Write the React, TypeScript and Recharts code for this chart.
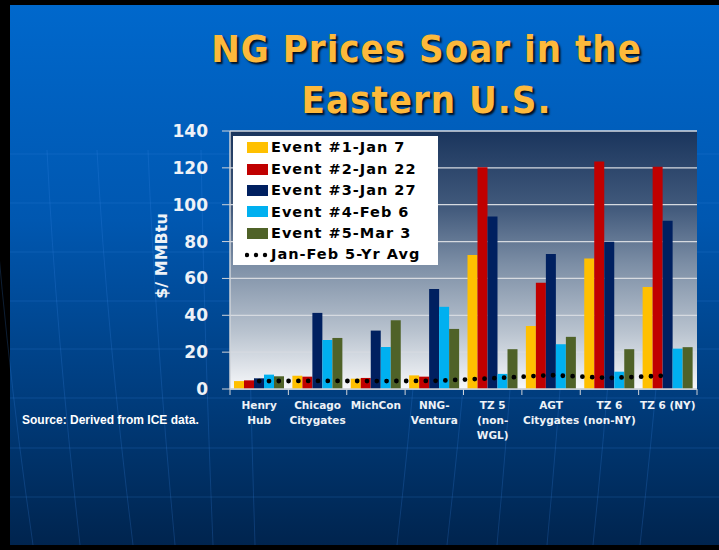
import React from 'react';
import { ComposedChart, Bar, Line, XAxis, YAxis, CartesianGrid, Legend, Label } from 'recharts';

// categories along the x axis, and how their labels wrap
const categories = ['Henry Hub', 'Chicago Citygates', 'MichCon', 'NNG-Ventura', 'TZ 5 (non-WGL)', 'AGT Citygates', 'TZ 6 (non-NY)', 'TZ 6 (NY)'];
const categoryLines = [['Henry', 'Hub'], ['Chicago', 'Citygates'], ['MichCon'], ['NNG-', 'Ventura'], ['TZ 5', '(non-', 'WGL)'], ['AGT', 'Citygates'], ['TZ 6', '(non-NY)'], ['TZ 6 (NY)']];

// $/MMBtu
const event1 = [4.3, 7.2, 5.6, 7.4, 72.7, 34.2, 70.8, 55.4];
const event2 = [4.7, 6.7, 6.0, 6.7, 120.3, 57.6, 123.5, 120.6];
const event3 = [5.8, 41.3, 31.7, 54.3, 93.6, 73.2, 79.9, 91.3];
const event4 = [7.8, 26.6, 22.8, 44.6, 8.2, 24.3, 9.4, 21.9];
const event5 = [6.9, 27.7, 37.3, 32.6, 21.6, 28.3, 21.6, 22.7];
const fiveYrAvg = [4.3, 4.4, 4.3, 4.4, 5.8, 7.5, 6.0, 7.3];

const seriesNames = ['Event #1-Jan 7', 'Event #2-Jan 22', 'Event #3-Jan 27', 'Event #4-Feb 6', 'Event #5-Mar 3'];
const seriesColors = ['#ffc000', '#c00000', '#002060', '#00b0f0', '#4f6228'];
const avgName = 'Jan-Feb 5-Yr Avg';
const yTicks = [0, 20, 40, 60, 80, 100, 120, 140];

const data = categories.map((name, i) => ({
  name,
  e1: event1[i],
  e2: event2[i],
  e3: event3[i],
  e4: event4[i],
  e5: event5[i],
  avg: fiveYrAvg[i],
}));

const W = 719;
const H = 550;
const margin = { top: 131, right: 22, bottom: 101, left: 170 };
const Y_AXIS_W = 60;
const X_AXIS_H = 60;
const BAND = (W - margin.left - margin.right - Y_AXIS_W) / categories.length;

const labelColor = '#eef2f7';
const axisColor = '#cfd3d8';

function CategoryTick(props: any) {
  const { x, y, index, payload } = props;
  const lines = categoryLines[index] || [payload.value];
  return (
    <g>
      <line x1={x - BAND / 2} x2={x - BAND / 2} y1={y} y2={y + 6} stroke={axisColor} />
      {index === categories.length - 1 && (
        <line x1={x + BAND / 2} x2={x + BAND / 2} y1={y} y2={y + 6} stroke={axisColor} />
      )}
      <text x={x} y={y + 19.5} textAnchor="middle" fill={labelColor} fontSize={10.5} fontWeight="bold" fontFamily="DejaVu Sans">
        {lines.map((l: string, i: number) => (
          <tspan key={i} x={x} dy={i === 0 ? 0 : 15}>{l}</tspan>
        ))}
      </text>
    </g>
  );
}

function LegendBox(props: any) {
  const payload = props.payload || [];
  return (
    <div style={{ background: '#fff', width: 205, height: 129, padding: '1px 0 0 14px', boxSizing: 'border-box' }}>
      {payload.map((entry: any) => (
        <div key={entry.value} style={{ display: 'flex', alignItems: 'center', height: 21.4 }}>
          {entry.type === 'line' ? (
            <svg width={26} height={10} style={{ marginLeft: -2 }}>
              {[2, 11, 20].map((cx) => <circle key={cx} cx={cx} cy={5} r={2.2} fill="#000" />)}
            </svg>
          ) : (
            <span style={{ display: 'inline-block', width: 21, height: 11, background: entry.color, marginRight: 3 }} />
          )}
          <span style={{ fontFamily: 'DejaVu Sans', fontWeight: 'bold', fontSize: 14.5, letterSpacing: 1, color: '#000', lineHeight: 1 }}>
            {entry.value}
          </span>
        </div>
      ))}
    </div>
  );
}

function YLabel(props: any) {
  const vb = props.viewBox;
  const cx = vb.x - 9;
  const cy = vb.y + vb.height / 2 - 4;
  return (
    <text x={cx} y={cy} transform={`rotate(-90 ${cx} ${cy})`} textAnchor="middle" dominantBaseline="central"
      fill={labelColor} fontSize={16} fontWeight="bold" fontFamily="DejaVu Sans">
      $/ MMBtu
    </text>
  );
}

function Backdrop() {
  const rows = [154, 203, 252, 301, 349, 398, 448, 497];
  const meridians = [
    { xb: 33, s: 0.14 }, { xb: 80, s: 0.11 }, { xb: 133, s: 0.12 }, { xb: 175, s: 0.09 },
    { xb: 213, s: 0.04 }, { xb: 255, s: 0.03 }, { xb: 397, s: -0.11 }, { xb: 447, s: -0.11 },
    { xb: 497, s: -0.09 }, { xb: 547, s: -0.09 }, { xb: 593, s: -0.1 }, { xb: 640, s: -0.11 },
  ];
  return (
    <svg width={W} height={H} style={{ position: 'absolute', left: 0, top: 0 }}>
      <defs>
        <linearGradient id="slideBg" x1="0" y1="0" x2="0" y2="1">
          <stop offset="0%" stopColor="#0068cc" />
          <stop offset="40%" stopColor="#0057b0" />
          <stop offset="72%" stopColor="#003d7e" />
          <stop offset="100%" stopColor="#00244e" />
        </linearGradient>
      </defs>
      <rect x={0} y={0} width={W} height={H} fill="#000" />
      <rect x={10} y={5} width={W - 10} height={540} fill="url(#slideBg)" />
      {rows.map((y) => (
        <line key={y} x1={10} x2={W} y1={y} y2={y} stroke="#3a8ae6" strokeOpacity={0.22} />
      ))}
      {meridians.map((m) => (
        <path key={m.xb} d={`M ${m.xb} 545 Q ${m.xb - m.s * 220} 330 ${m.xb - m.s * 300} 150`}
          fill="none" stroke="#3a8ae6" strokeOpacity={0.22} />
      ))}
    </svg>
  );
}

export default function App() {
  const titleStyle: React.CSSProperties = {
    position: 'absolute',
    left: 10,
    top: 24,
    width: 833,
    textAlign: 'center',
    fontFamily: '"DejaVu Sans Condensed", "DejaVu Sans"',
    fontStretch: 'condensed',
    fontWeight: 'bold',
    fontSize: 38,
    letterSpacing: 1,
    lineHeight: '51px',
    color: '#fdb93b',
    textShadow: '2px 2px 2px rgba(0,0,0,0.85)',
  };
  return (
    <div style={{ position: 'absolute', left: 0, top: 0, width: W, height: H, overflow: 'hidden' }}>
      <Backdrop />
      <div style={titleStyle}>
        <div>NG Prices Soar in the</div>
        <div>Eastern U.S.</div>
      </div>
      <div style={{ position: 'absolute', left: 22, top: 413, fontFamily: '"Liberation Sans", Arial', fontWeight: 'bold', fontSize: 12, color: '#fff', whiteSpace: 'nowrap' }}>
        Source: Derived from ICE data.
      </div>
      <div style={{ position: 'absolute', left: 0, top: 0 }}>
        <ComposedChart width={W} height={H} data={data} margin={margin} barCategoryGap={4} barGap={0}>
          <defs>
            <linearGradient id="plotBg" x1="0" y1="0" x2="0" y2="1">
              <stop offset="0%" stopColor="#1a355d" />
              <stop offset="30%" stopColor="#425a7c" />
              <stop offset="52%" stopColor="#7d8fa6" />
              <stop offset="78%" stopColor="#b9c3cf" />
              <stop offset="100%" stopColor="#f7f8fa" />
            </linearGradient>
          </defs>
          <CartesianGrid vertical={false} stroke="#d6dae0" strokeWidth={1.3} fill="url(#plotBg)" fillOpacity={1} />
          <XAxis dataKey="name" height={X_AXIS_H} interval={0} tickSize={0} tickMargin={0}
            axisLine={{ stroke: axisColor, strokeWidth: 1.5 }} tickLine={false} tick={<CategoryTick />} />
          <YAxis width={Y_AXIS_W} domain={[0, 140]} ticks={yTicks} tickSize={8} tickMargin={14}
            axisLine={{ stroke: axisColor, strokeWidth: 1.5 }} tickLine={{ stroke: axisColor }}
            tick={{ fill: labelColor, fontSize: 17, fontWeight: 'bold', fontFamily: 'DejaVu Sans' }}>
            <Label content={<YLabel />} />
          </YAxis>
          <Legend layout="vertical" align="center" verticalAlign="middle" content={<LegendBox />}
            wrapperStyle={{ left: 233, top: 136, width: 205, height: 129 }} />
          <Bar dataKey="e1" name={seriesNames[0]} fill={seriesColors[0]} isAnimationActive={false} />
          <Bar dataKey="e2" name={seriesNames[1]} fill={seriesColors[1]} isAnimationActive={false} />
          <Bar dataKey="e3" name={seriesNames[2]} fill={seriesColors[2]} isAnimationActive={false} />
          <Bar dataKey="e4" name={seriesNames[3]} fill={seriesColors[3]} isAnimationActive={false} />
          <Bar dataKey="e5" name={seriesNames[4]} fill={seriesColors[4]} isAnimationActive={false} />
          <Line type="linear" dataKey="avg" name={avgName} stroke="#000" strokeWidth={4.8}
            strokeDasharray="0 9.8" strokeLinecap="round" dot={false} activeDot={false} isAnimationActive={false} />
        </ComposedChart>
      </div>
    </div>
  );
}
